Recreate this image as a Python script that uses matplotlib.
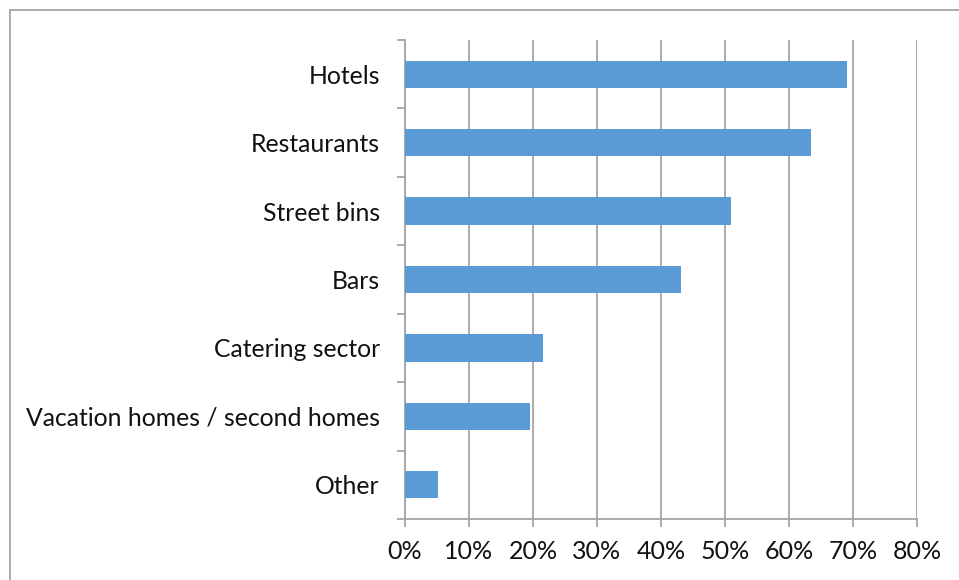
import matplotlib
matplotlib.use("Agg")
from matplotlib import pyplot as plt
from matplotlib.lines import Line2D
from matplotlib.ticker import FuncFormatter, FixedLocator

categories = ["Hotels", "Restaurants", "Street bins", "Bars", "Catering sector",
              "Vacation homes / second homes", "Other"]
shares = [69.0, 63.4, 51.0, 43.2, 21.5, 19.5, 5.2]
x_ticks = [0, 10, 20, 30, 40, 50, 60, 70, 80]

plt.rcParams["font.family"] = ["Lato", "DejaVu Sans"]
grid_color = "#a6a6a6"

fig = plt.figure(figsize=(9.59, 5.80), dpi=100)
ax = fig.add_axes([0.4223, 0.1052, 0.5339, 0.8258])

pos = list(range(len(categories)))[::-1]
ax.barh(pos, shares, height=0.4, color="#5b9bd5", zorder=3)

ax.set_xlim(0, 80)
ax.set_ylim(-0.5, len(categories) - 0.5)
ax.set_xticks(x_ticks)
ax.xaxis.set_major_formatter(FuncFormatter(lambda v, _: f"{v:.0f}%"))
ax.set_yticks(pos)
ax.set_yticklabels(categories)
ax.yaxis.set_minor_locator(FixedLocator([p + 0.5 for p in range(-1, len(categories))]))

ax.grid(axis="x", color=grid_color, linewidth=1.3, zorder=0)
for side in ["top", "right"]:
    ax.spines[side].set_visible(False)
for side in ["left", "bottom"]:
    ax.spines[side].set_color(grid_color)
    ax.spines[side].set_linewidth(1.3)

ax.tick_params(axis="y", which="major", length=0, pad=18, labelsize=17.8, labelcolor="#111111")
ax.tick_params(axis="y", which="minor", length=6, width=1.3, color=grid_color, direction="out")
ax.tick_params(axis="x", length=6, width=1.3, color=grid_color, pad=9, labelsize=18, labelcolor="#111111")

# outer chart frame, cut off at right and bottom
fig.add_artist(Line2D([10 / 959, 10 / 959], [0, 1 - 10 / 580], transform=fig.transFigure,
                      color=grid_color, linewidth=1.3))
fig.add_artist(Line2D([10 / 959, 1], [1 - 10 / 580, 1 - 10 / 580], transform=fig.transFigure,
                      color=grid_color, linewidth=1.3))

fig.savefig("out.png", dpi=100)
